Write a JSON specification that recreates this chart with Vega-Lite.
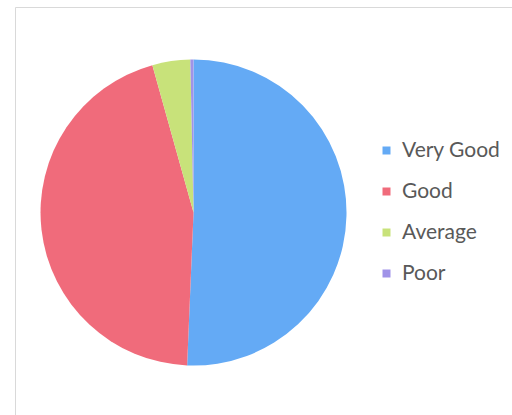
{
  "$schema": "https://vega.github.io/schema/vega-lite/v6.json",
  "width": 497,
  "height": 408,
  "autosize": "none",
  "padding": {"left": 15, "top": 7, "right": 0, "bottom": 0},
  "background": "white",
  "view": {"stroke": "#d9d9d9", "strokeWidth": 1, "strokeDash": [497, 905, 408, 0], "strokeDashOffset": 0},
  "data": {
    "values": [
      {"chart": "Rating", "rating": "Very Good", "count": 152, "rank": 1},
      {"chart": "Rating", "rating": "Good", "count": 135, "rank": 2},
      {"chart": "Rating", "rating": "Average", "count": 12, "rank": 3},
      {"chart": "Rating", "rating": "Poor", "count": 1, "rank": 4}
    ]
  },
  "mark": {"type": "arc", "outerRadius": 153},
  "encoding": {
    "x": {"field": "chart", "type": "nominal", "axis": null, "scale": {"type": "point", "align": 0.3592}},
    "y": {"field": "chart", "type": "nominal", "axis": null, "scale": {"type": "point", "align": 0.5037}},
    "theta": {"field": "count", "type": "quantitative", "stack": true},
    "order": {"field": "rank", "type": "quantitative"},
    "color": {
      "field": "rating",
      "type": "nominal",
      "scale": {
        "domain": ["Very Good", "Good", "Average", "Poor"],
        "range": ["#64aaf5", "#f06b7b", "#c8e27a", "#a093e8"]
      },
      "legend": {
        "title": null,
        "orient": "none",
        "legendX": 361,
        "legendY": 133,
        "symbolType": "square",
        "symbolSize": 64,
        "symbolStrokeWidth": 0,
        "labelFont": "Lato",
        "labelFontSize": 21,
        "labelColor": "#595959",
        "labelOffset": 5,
        "rowPadding": 19,
        "padding": 0
      }
    }
  }
}
